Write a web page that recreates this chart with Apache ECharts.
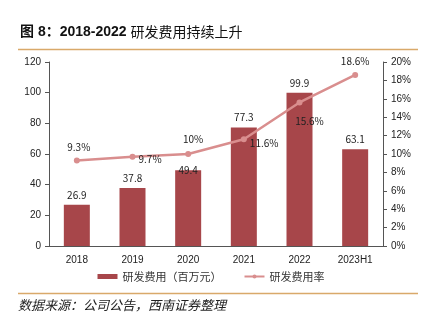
<!DOCTYPE html>
<html>
<head>
<meta charset="utf-8">
<script src="https://cdn.jsdelivr.net/npm/echarts@6/dist/echarts.min.js"></script>
<style>
html,body{margin:0;padding:0;background:#fff;}
#chart{width:422px;height:324px;}
</style>
</head>
<body>
<div id="chart"></div>
<script>
// R&D expense (million yuan) and R&D expense ratio by period
var categories = ['2018', '2019', '2020', '2021', '2022', '2023H1'];
var rdExpense = [26.9, 37.8, 49.4, 77.3, 99.9, 63.1];
var rdRatio = [9.3, 9.7, 10, 11.6, 15.6, 18.6];
var ratioLabels = ['9.3%', '9.7%', '10%', '11.6%', '15.6%', '18.6%'];

var barColor = '#a7464a';
var lineColor = '#d98e8e';
var ruleColor = '#d9a96a';
var labelFont = '"Noto Sans CJK SC", sans-serif';
var tickFont = '"Liberation Sans", Arial, sans-serif';

// per-point label placement for the ratio line
var ratioLabelPos = [
  {position: 'top', offset: [2, 0]},
  {position: 'right', offset: [-2, 2]},
  {position: 'top', offset: [5, -2]},
  {position: 'right', offset: [-2, 4]},
  {position: 'bottom', offset: [10, 6]},
  {position: 'top', offset: [0, -1]}
];

var barData = rdExpense.map(function (v, i) {
  var d = {value: v};
  if (i === 2) d.label = {offset: [0, 10]};
  return d;
});

var lineData = rdRatio.map(function (v, i) {
  return {
    value: v,
    label: {
      position: ratioLabelPos[i].position,
      offset: ratioLabelPos[i].offset,
      formatter: ratioLabels[i]
    }
  };
});

var chart = echarts.init(document.getElementById('chart'), null, {renderer: 'canvas'});
chart.setOption({
  animation: false,
  backgroundColor: '#fff',
  graphic: [
    {
      type: 'text', left: 20, top: 25,
      style: {
        text: '{b|图 8：2018-2022 }{n|研发费用持续上升}',
        rich: {
          b: {fontFamily: '"Liberation Sans", "Noto Sans CJK SC", sans-serif', fontWeight: 'bold', fontSize: 14, fill: '#111'},
          n: {fontFamily: '"Noto Sans CJK SC", sans-serif', fontWeight: 'normal', fontSize: 14, fill: '#111'}
        }
      }
    },
    {type: 'line', shape: {x1: 18, y1: 49.5, x2: 418, y2: 49.5}, style: {stroke: ruleColor, lineWidth: 1.5}},
    {type: 'line', shape: {x1: 18, y1: 293.5, x2: 418, y2: 293.5}, style: {stroke: ruleColor, lineWidth: 1.5}},
    {
      type: 'text', left: 18, top: 299,
      style: {
        text: '数据来源：公司公告，西南证券整理',
        fontFamily: '"Noto Sans CJK SC", sans-serif', fontStyle: 'italic', fontSize: 13, fill: '#222'
      }
    }
  ],
  grid: {left: 49, right: 39, top: 62, bottom: 78, containLabel: false},
  legend: {
    bottom: 37, left: 'center', itemGap: 22, itemWidth: 20, itemHeight: 5,
    textStyle: {fontFamily: labelFont, fontSize: 11, color: '#333'},
    data: [
      {name: '研发费用（百万元）', icon: 'rect'},
      {name: '研发费用率'}
    ]
  },
  xAxis: {
    type: 'category', data: categories,
    axisLine: {lineStyle: {color: '#555', width: 1}},
    axisTick: {show: false},
    axisLabel: {fontFamily: tickFont, fontSize: 10, color: '#222', margin: 9}
  },
  yAxis: [
    {
      type: 'value', min: 0, max: 120, interval: 20,
      axisLine: {show: true, lineStyle: {color: '#555'}},
      axisTick: {show: true, length: 4, lineStyle: {color: '#555'}},
      splitLine: {show: false},
      axisLabel: {fontFamily: tickFont, fontSize: 10, color: '#222', margin: 8}
    },
    {
      type: 'value', min: 0, max: 20, interval: 2, position: 'right',
      axisLine: {show: true, lineStyle: {color: '#555'}},
      axisTick: {show: true, length: 4, lineStyle: {color: '#555'}},
      splitLine: {show: false},
      axisLabel: {fontFamily: tickFont, fontSize: 10, color: '#222', margin: 8, formatter: '{value}%'}
    }
  ],
  series: [
    {
      name: '研发费用（百万元）', type: 'bar', data: barData, barWidth: 26,
      itemStyle: {color: barColor},
      label: {show: true, position: 'top', distance: 5, fontFamily: labelFont, fontSize: 10, color: '#222'}
    },
    {
      name: '研发费用率', type: 'line', yAxisIndex: 1, data: lineData,
      symbol: 'circle', symbolSize: 6,
      lineStyle: {color: lineColor, width: 2.5},
      itemStyle: {color: lineColor},
      label: {show: true, fontFamily: labelFont, fontSize: 10, color: '#222', distance: 5}
    }
  ]
});
</script>
</body>
</html>
